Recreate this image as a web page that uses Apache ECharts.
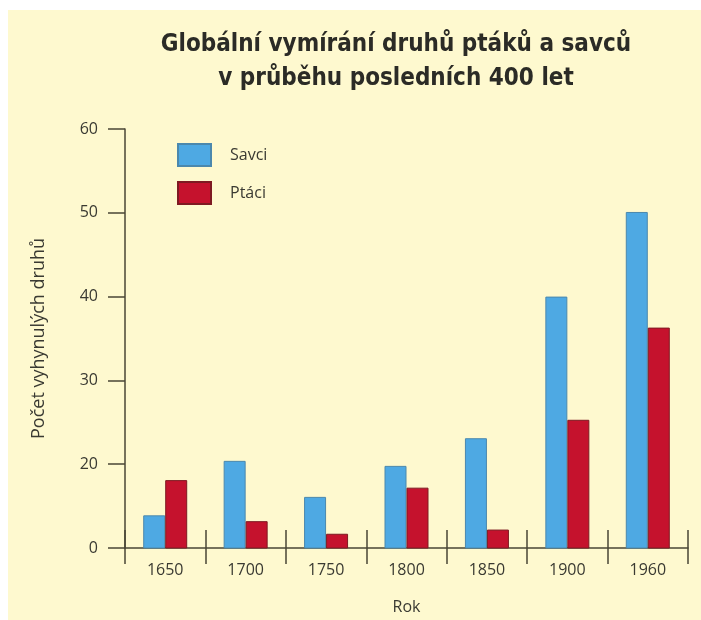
<!DOCTYPE html>
<html>
<head>
<meta charset="utf-8">
<script src="https://cdn.jsdelivr.net/npm/echarts@6/dist/echarts.min.js"></script>
<style>
  html, body { margin: 0; padding: 0; background: #ffffff; }
  #main { position: absolute; left: 8px; top: 10px; width: 693px; height: 610px; background: #fef9cf; }
</style>
</head>
<body>
<div id="main"></div>
<script>
// data (the bottom tick of the axis is labelled "0")
const years = ['1650', '1700', '1750', '1800', '1850', '1900', '1960'];
const savci = [13.9, 20.4, 16.1, 19.8, 23.1, 40.0, 50.1];
const ptaci = [18.1, 13.2, 11.7, 17.2, 12.2, 25.3, 36.3];
const yTicks = [10, 20, 30, 40, 50, 60];
const yTickLabels = ['0', '20', '30', '40', '50', '60'];

const axisColor = '#4a4636';
const textColor = '#3a3a32';

var myChart = echarts.init(document.getElementById('main'));

var option = {
  animation: false,
  title: {
    text: 'Globální vymírání druhů ptáků a savců\nv průběhu posledních 400 let',
    left: 383,
    top: 13,
    textAlign: 'center',
    textStyle: {
      fontFamily: 'DejaVu Sans Condensed',
      fontWeight: 'bold',
      fontSize: 24,
      lineHeight: 34,
      color: '#2b2b26'
    }
  },
  legend: {
    orient: 'vertical',
    left: 164,
    top: 128,
    itemWidth: 33,
    itemHeight: 22,
    itemGap: 14,
    icon: 'rect',
    data: ['Savci', 'Ptáci'],
    textStyle: {
      fontFamily: 'Open Sans',
      fontSize: 16,
      color: textColor,
      padding: [0, 0, 0, 14]
    }
  },
  grid: {
    left: 117,
    right: 13,
    top: 119,
    bottom: 70.5,
    containLabel: false
  },
  xAxis: [
    {
      type: 'category',
      data: years,
      position: 'bottom',
      name: 'Rok',
      nameLocation: 'middle',
      nameGap: 51,
      nameTextStyle: { fontFamily: 'Open Sans', fontSize: 16, color: textColor },
      axisLine: { lineStyle: { color: axisColor, width: 1.5 } },
      axisTick: { show: true, inside: false, length: 16, lineStyle: { color: axisColor, width: 1.5 } },
      axisLabel: { margin: 14, fontFamily: 'Open Sans', fontSize: 16, color: textColor },
      splitLine: { show: false }
    },
    {
      // second copy only for the tick marks that rise above the axis
      type: 'category',
      data: years,
      position: 'bottom',
      axisLine: { show: false },
      axisTick: { show: true, inside: true, length: 18, lineStyle: { color: axisColor, width: 1.5 } },
      axisLabel: { show: false },
      splitLine: { show: false }
    }
  ],
  yAxis: {
    type: 'value',
    min: 10,
    max: 60,
    interval: 10,
    name: 'Počet vyhynulých druhů',
    nameLocation: 'middle',
    nameGap: 77,
    nameTextStyle: { fontFamily: 'Open Sans', fontSize: 18, color: textColor },
    axisLine: { show: true, lineStyle: { color: axisColor, width: 1.5 } },
    axisTick: { show: true, length: 17, lineStyle: { color: axisColor, width: 1.5 } },
    axisLabel: {
      margin: 27,
      fontFamily: 'Open Sans',
      fontSize: 16,
      color: textColor,
      formatter: function (v) {
        var i = yTicks.indexOf(v);
        return i >= 0 ? yTickLabels[i] : '';
      }
    },
    splitLine: { show: false }
  },
  series: [
    {
      name: 'Savci',
      type: 'bar',
      data: savci,
      barWidth: 22,
      barGap: '0%',
      itemStyle: { color: '#4ea9e3', borderColor: '#4b88ad', borderWidth: 1 }
    },
    {
      name: 'Ptáci',
      type: 'bar',
      data: ptaci,
      barWidth: 22,
      barGap: '0%',
      itemStyle: { color: '#c5122d', borderColor: '#7e1a22', borderWidth: 1 }
    }
  ]
};

myChart.setOption(option);
</script>
</body>
</html>
